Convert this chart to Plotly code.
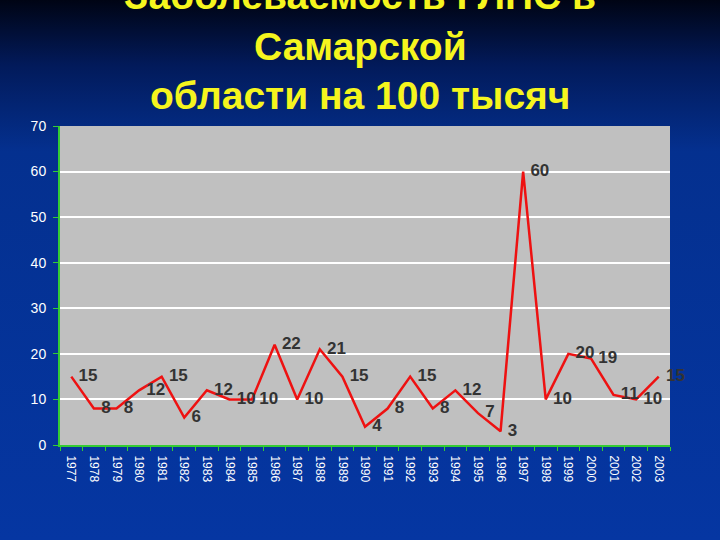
import base64
import plotly.graph_objects as go

years = [str(y) for y in range(1977, 2004)]
values = [15, 8, 8, 12, 15, 6, 12, 10, 10, 22, 10, 21, 15, 4, 8, 15, 8, 12, 7, 3,
          60, 10, 20, 19, 11, 10, 15]
title_lines = ["Заболеваемость ГЛПС в", "Самарской", "области на 100 тысяч"]

W, H = 720, 540
L, R, T, B = 60, 50, 126, 95
pw, ph = W - L - R, H - T - B

svg = f'''<svg xmlns="http://www.w3.org/2000/svg" width="{W}" height="{H}" preserveAspectRatio="none">
<defs><linearGradient id="g" x1="0" y1="0" x2="0" y2="1">
<stop offset="0" stop-color="#000414"/>
<stop offset="0.12" stop-color="#021a5a"/>
<stop offset="0.28" stop-color="#04308f"/>
<stop offset="1" stop-color="#0536a2"/>
</linearGradient></defs>
<rect width="{W}" height="{H}" fill="url(#g)"/></svg>'''
src = "data:image/svg+xml;base64," + base64.b64encode(svg.encode()).decode()

fig = go.Figure()
fig.add_trace(go.Scatter(
    x=years, y=values, mode="lines+markers+text",
    line=dict(color="#ee1111", width=2.5),
    marker=dict(size=10, color="rgba(0,0,0,0)"),
    text=[str(v) for v in values],
    textposition="middle right",
    textfont=dict(family="Liberation Sans", size=17, color="#333333", weight="bold"),
    cliponaxis=False, hoverinfo="skip",
))

fig.add_layout_image(dict(
    source=src, xref="paper", yref="paper",
    x=-L / pw, y=1 + T / ph, sizex=W / pw, sizey=H / ph,
    xanchor="left", yanchor="top", sizing="stretch", layer="below",
))
fig.add_shape(type="rect", xref="paper", yref="paper", x0=0, x1=1, y0=0, y1=1,
              fillcolor="#c0c0c0", line_width=0, layer="below")

def py(p):
    return (H - B - p) / ph

for txt, ypix in zip(title_lines, [-5, 46, 96]):
    fig.add_annotation(text=f"<b>{txt}</b>", xref="paper", yref="paper",
                       x=(360 - L) / pw, y=py(ypix), xanchor="center", yanchor="middle",
                       showarrow=False,
                       font=dict(family="Liberation Sans", size=39, color="#f5f51e"))

fig.update_layout(
    width=W, height=H,
    margin=dict(l=L, r=R, t=T, b=B),
    paper_bgcolor="#0536a2",
    plot_bgcolor="rgba(0,0,0,0)",
    showlegend=False,
    font=dict(family="Liberation Sans", color="white"),
)
fig.update_xaxes(
    type="category", range=[-0.5, 26.5], tickangle=90,
    tickfont=dict(size=12, color="white"),
    showgrid=False, showline=True, linecolor="#33cc33", linewidth=2,
    ticks="outside", tickcolor="#33cc33", ticklen=4, tickson="boundaries",
    ticklabelstandoff=6,
)
fig.update_yaxes(
    range=[0, 70], dtick=10, tickfont=dict(size=14, color="white"),
    showgrid=True, gridcolor="white", gridwidth=1.5,
    showline=True, linecolor="#33cc33", linewidth=2,
    ticks="outside", tickcolor="#33cc33", ticklen=5, zeroline=False,
    ticklabelstandoff=4,
)

fig.write_html("out.html", config={"displayModeBar": False},
               post_script="document.body.style.margin='0';")
